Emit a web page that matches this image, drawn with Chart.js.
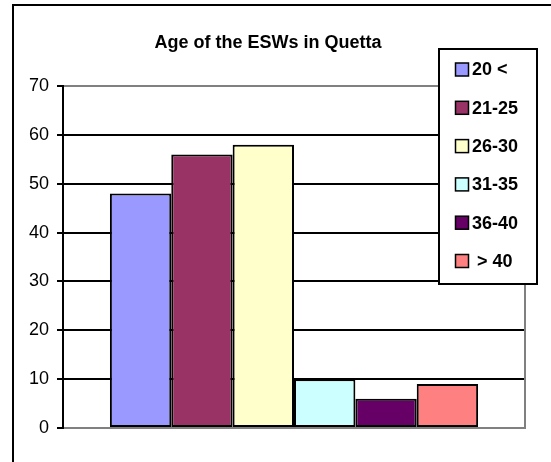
<!DOCTYPE html>
<html>
<head>
<meta charset="utf-8">
<script src="https://cdn.jsdelivr.net/npm/chart.js@4/dist/chart.umd.min.js"></script>
<style>
  html, body { margin: 0; padding: 0; background: #fff; }
  #wrap { position: relative; width: 551px; height: 462px; }
</style>
</head>
<body>
<div id="wrap"><canvas id="c" width="551" height="462"></canvas></div>
<script>
const chartTitle = "Age of the ESWs in Quetta";
const ageGroups = ["20 <", "21-25", "26-30", "31-35", "36-40", " > 40"];
const counts = [48, 56, 58, 10, 6, 9];
const barColors = ["#9999FF", "#993366", "#FFFFCC", "#CCFFFF", "#660066", "#FF8080"];
const yTicks = [0, 10, 20, 30, 40, 50, 60, 70];

const FONT = "'Liberation Sans', Arial, sans-serif";

const datasets = ageGroups.map((g, i) => ({
  label: g,
  data: [counts[i]],
  backgroundColor: barColors[i],
  borderColor: "#000",
  borderWidth: 2,
  borderSkipped: false
}));

const framePlugin = {
  id: "frame",
  beforeDraw(chart) {
    const ctx = chart.ctx;
    ctx.save();
    ctx.fillStyle = "#fff";
    ctx.fillRect(0, 0, chart.width, chart.height);
    ctx.strokeStyle = "#000";
    ctx.lineWidth = 2;
    ctx.beginPath();
    ctx.moveTo(13, chart.height + 5);
    ctx.lineTo(13, 5);
    ctx.lineTo(chart.width + 5, 5);
    ctx.stroke();
    ctx.restore();
  },
  afterDatasetsDraw(chart) {
    const a = chart.chartArea;
    const ctx = chart.ctx;
    ctx.save();
    ctx.strokeStyle = "#808080";
    ctx.lineWidth = 2;
    ctx.beginPath();
    ctx.moveTo(a.right, a.top);
    ctx.lineTo(a.right, a.bottom);
    ctx.stroke();
    ctx.restore();
  },
  afterDraw(chart) {
    const ctx = chart.ctx;
    ctx.save();
    // title
    ctx.fillStyle = "#000";
    ctx.font = "bold 18px " + FONT;
    ctx.textAlign = "center";
    ctx.textBaseline = "middle";
    ctx.fillText(chartTitle, 268, 43);
    // legend box
    const bx = 439, by = 49, bw = 98, bh = 235;
    ctx.fillStyle = "#fff";
    ctx.fillRect(bx, by, bw, bh);
    ctx.strokeStyle = "#000";
    ctx.lineWidth = 2;
    ctx.strokeRect(bx, by, bw, bh);
    ctx.font = "bold 18px " + FONT;
    ctx.textAlign = "left";
    chart.data.datasets.forEach((ds, i) => {
      const cy = 69.5 + i * 38.3;
      ctx.fillStyle = ds.backgroundColor;
      ctx.fillRect(455.5, cy - 6.5, 13, 13);
      ctx.strokeStyle = "#000";
      ctx.lineWidth = 1.5;
      ctx.strokeRect(455.5, cy - 6.5, 13, 13);
      ctx.fillStyle = "#000";
      ctx.fillText(ds.label, 472, cy + 1);
    });
    ctx.restore();
  }
};

new Chart(document.getElementById("c"), {
  type: "bar",
  data: { labels: [""], datasets },
  options: {
    responsive: false,
    animation: false,
    devicePixelRatio: 1,
    layout: { padding: { left: 0, top: 86, right: 26, bottom: 34 } },
    datasets: { bar: { categoryPercentage: 0.797, barPercentage: 1 } },
    plugins: {
      legend: { display: false },
      title: { display: false },
      tooltip: { enabled: false }
    },
    scales: {
      x: {
        grid: { display: false },
        ticks: { display: false },
        border: { display: true, color: "#808080", width: 2 },
        afterFit(s) { s.height = 0; }
      },
      y: {
        min: 0,
        max: 70,
        afterBuildTicks(s) { s.ticks = yTicks.map(v => ({ value: v })); },
        ticks: {
          color: "#000",
          padding: 8,
          font: { family: FONT, size: 18 }
        },
        grid: {
          lineWidth: 2,
          tickLength: 6,
          tickColor: "#000",
          color: c => (c.tick && (c.tick.value === 70 || c.tick.value === 0)) ? "#808080" : "#000"
        },
        border: { display: true, color: "#000", width: 2 },
        afterFit(s) { s.width = 63; }
      }
    }
  },
  plugins: [framePlugin]
});
</script>
</body>
</html>
